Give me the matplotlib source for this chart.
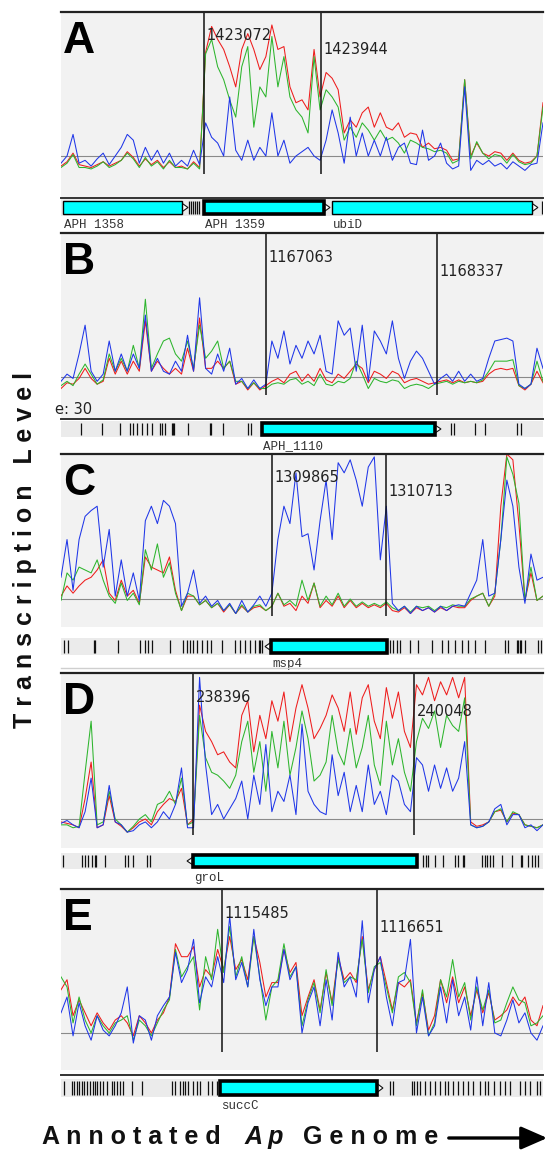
import numpy as np
import matplotlib.pyplot as plt
from matplotlib.patches import Rectangle, Polygon, FancyArrowPatch
from matplotlib.lines import Line2D

plt.rcParams['font.family'] = ['Liberation Sans', 'DejaVu Sans']

# ---------------- data ----------------
# transcription level, in % of panel height above the background line
a_red = [-7, -4, 2, -6, -7, -8, -6, -4, -7, -5, -3, 3, -1, -7, -2, -6, -3, -8, -4, -8,
         -7, -9, -4, -8, 72, 90, 81, 74, 62, 48, 74, 85, 74, 60, 69, 91, 74, 76, 48, 37,
         39, 32, 74, 41, 58, 54, 46, 16, 25, 20, 30, 34, 20, 30, 20, 18, 23, 13, 16, 15,
         6, 9, 5, 6, 4, -3, -2, 53, 0, 9, 2, 0, 3, 2, -3, 2, -3, -5, -4, 0, 37]
a_green = [-8, -5, 1, -8, -8, -9, -7, -4, -8, -6, -3, 2, -2, -8, -1, -7, -4, -9, -3, -8,
           -8, -9, -5, -9, 71, 81, 62, 53, 39, 27, 62, 76, 20, 48, 41, 83, 48, 69, 41, 32,
           27, 16, 69, 32, 46, 41, 34, 11, 20, 13, 23, 18, 11, 18, 11, 13, 9, 2, 11, 9,
           6, 5, 3, 4, 2, -5, -3, 53, -2, 10, 2, -2, 1, 0, -5, 1, -4, -6, -5, 0, 34]
a_blue = [-5, 0, 15, -5, -3, -7, -2, 2, -6, 0, 6, 15, 11, -5, 6, -3, 4, -5, 2, -7,
          -3, -7, 4, -6, 23, 13, 9, 0, 41, 4, -3, 11, -3, 6, 0, 30, 0, 11, -5, 0,
          3, 6, 0, -3, 11, 32, 16, -5, 27, 0, 16, 0, 11, 0, 13, -3, 6, 9, -5, -6,
          18, -3, 0, 9, -5, -9, -7, 48, -10, -3, -6, -3, -7, -5, -9, -4, -7, -10, -6, -5, 23]

b_red = [-8, -4, -5, -1, 6, -1, -5, -3, 13, 2, 11, 2, 11, 4, 39, 4, 11, 6, 2, 6,
         2, 20, 4, 41, 6, 6, 11, 6, 11, -5, -3, -9, -4, -9, -6, -3, -1, -4, 2, 4,
         -3, 2, -3, 6, -2, -4, 2, -1, 4, 9, 6, -4, 4, 2, -1, 4, 2, -4, -2, -1,
         -3, -5, -4, -3, -2, -4, -2, -4, -3, -4, -3, 2, 5, 6, 5, 6, -6, -9, -5, 4, -4]
b_green = [-6, -3, -6, 2, 9, 2, -5, -2, 16, 4, 13, 4, 22, 6, 54, 6, 16, 25, 27, 16,
           11, 25, 6, 36, 13, 18, 25, 6, 11, -3, -3, -8, -4, -8, -8, -5, -4, -5, -2, -1,
           -5, -3, -6, 2, -5, -6, -3, -4, -1, 11, 2, -8, -1, -3, -4, -2, -3, -8, -6, -5,
           -6, -8, -5, -4, -3, -5, -3, -4, -3, -4, -2, 4, 11, 11, 11, 12, -6, -8, -5, 11, -3]
b_blue = [-3, 2, -1, 16, 36, 4, -3, 2, 25, 4, 16, 4, 16, 6, 43, 4, 13, 4, 2, 11,
          4, 29, 4, 55, 6, 2, 16, 4, 20, -5, -1, -8, -2, -8, -5, 25, 13, 32, 9, 22,
          13, 25, 16, 29, 4, 2, 39, 29, 34, 4, 36, -3, 32, 25, 16, 39, 13, -1, 11, 18,
          13, 4, -5, -1, 2, -3, 4, -3, 2, -3, -1, 13, 25, 26, 27, 25, -5, -8, -5, 20, 6]

c_red = [2, 9, 4, 9, 13, 15, 20, 27, 4, -1, 13, 2, 6, -3, 29, 22, 20, 18, 29, 6,
         -8, 2, 2, -4, -1, -6, -3, -9, -4, -10, -5, -9, -6, -5, -8, -5, 4, -5, -3, -8,
         2, -3, 11, -6, -1, -5, 2, -6, -1, -6, -3, -6, -4, -6, -3, -8, -9, -6, -10, -6,
         -8, -6, -9, -6, -8, -5, -6, -6, -1, 2, 4, -5, 2, 64, 100, 96, 52, -1, 18, -1, 2]
c_green = [-1, 18, 13, 22, 20, 18, 27, 13, 2, -3, 11, -1, 4, -4, 34, 20, 38, 15, 25, 4,
           -8, 4, 2, -4, -1, -6, -3, -8, -4, -10, -4, -9, -5, -4, -8, -5, 4, -4, -1, -5,
           13, -1, 11, -5, 2, -4, 4, -5, 0, -5, -2, -5, -3, -5, -2, -6, -8, -5, -9, -5,
           -6, -5, -8, -5, -6, -4, -5, -5, 0, 2, 4, -5, 4, 41, 98, 86, 66, -1, 22, -1, 2]
c_blue = [15, 41, 6, 41, 57, 61, 64, 22, 48, 2, 27, 2, 18, -1, 54, 64, 52, 68, 64, 52,
          -5, 4, 20, -3, 2, -5, -1, -8, -3, -10, -1, -9, -4, 2, -5, 4, 41, 64, 52, 87,
          43, 45, 20, 54, 82, 41, 94, 87, 96, 82, 64, 91, 98, 27, 64, -3, -8, -5, -10, -5,
          -8, -6, -9, -5, -8, -5, -4, -5, 4, 13, 41, 2, 4, 41, 82, 64, 22, -3, 31, 13, 15]

d_red = [-2, -3, -4, -6, 14, 39, -6, -4, 16, -2, -5, -9, -6, -2, 0, -4, 5, 10, 14, 12,
         21, -4, 0, 78, 60, 53, 44, 46, 39, 35, 71, 81, 46, 71, 55, 81, 67, 87, 53, 76,
         92, 76, 55, 62, 71, 85, 76, 60, 87, 58, 83, 92, 67, 55, 90, 69, 87, 60, 49, 92,
         85, 97, 81, 94, 85, 97, 83, 97, -2, -5, -4, -2, 5, 6, -2, 4, 3, -4, -5, -6, -4]
d_green = [-4, -4, -6, -5, 32, 67, -4, -2, 19, 0, -4, -9, -5, 0, 3, -2, 10, 12, 19, 10,
           28, -4, -2, 71, 42, 32, 30, 26, 21, 30, 53, 67, 32, 53, 19, 60, 35, 67, 30, 49,
           74, 55, 26, 30, 39, 71, 46, 37, 62, 35, 49, 71, 37, 23, 67, 37, 55, 32, 19, 53,
           69, 62, 74, 49, 71, 64, 60, 83, -4, -6, -5, -2, 5, 7, -2, 5, 3, -4, -5, -6, -4]
d_blue = [-3, -1, -4, -6, 5, 28, -6, -4, 23, -2, -4, -9, -8, -4, -2, -6, -2, 5, 0, 10,
          35, -6, -6, 97, 37, 3, 10, 0, 7, 14, 26, 0, 30, 10, 51, 5, 19, 12, 30, 3,
          65, 19, 10, 5, 3, 44, 16, 32, 5, 23, 5, 37, 10, 19, 3, 30, 26, 10, 5, 42,
          37, 19, 37, 21, 35, 19, 28, 53, -4, -6, -5, -2, 7, 10, -4, 3, 3, -6, -4, -8, -4]

e_red = [30, 37, 12, 23, 14, 5, 14, 7, 2, 9, 12, 7, -2, 12, 7, 0, 9, 14, 25, 62,
         53, 53, 60, 32, 44, 39, 58, 44, 67, 44, 51, 37, 67, 49, 25, 35, 35, 58, 42, 49,
         12, 25, 37, 16, 42, 21, 53, 37, 42, 35, 67, 30, 44, 53, 35, 16, 35, 32, 37, 7,
         28, 2, 12, 37, 21, 39, 21, 32, 12, 30, 14, 28, 9, 12, 16, 25, 19, 25, 9, 5, 19]
e_green = [39, 32, 7, 25, 9, 0, 12, 5, 0, 7, 9, 12, -5, 9, 5, -2, 7, 16, 23, 58,
           39, 46, 53, 16, 53, 37, 72, 42, 74, 39, 53, 32, 67, 39, 9, 32, 37, 62, 39, 46,
           5, 23, 35, 14, 44, 19, 51, 35, 39, 37, 65, 28, 46, 49, 32, 14, 39, 42, 35, 5,
           30, -2, 7, 37, 25, 51, 25, 35, 9, 32, 16, 30, 7, 9, 21, 32, 23, 21, 5, 7, 12]
e_blue = [14, 25, -2, 21, 5, -5, 12, 2, -2, 5, 14, 32, -7, 12, 9, -5, 12, 19, 25, 56,
          35, 44, 65, 21, 39, 32, 53, 35, 81, 37, 49, 32, 72, 37, 19, 32, 32, 58, 37, 46,
          0, 21, 32, 5, 37, 9, 56, 32, 39, 25, 78, 21, 44, 53, 25, 5, 35, 37, 65, 0,
          25, -2, 5, 32, 7, 37, 12, 25, 2, 39, 5, 35, 0, -2, 9, 23, 7, 14, 0, -5, 5]

# genome coordinates of the marked gene boundaries
a_marks = [1423072, 1423944]
b_marks = [1167063, 1168337]
c_marks = [1309865, 1310713]
d_marks = [238396, 240048]
e_marks = [1115485, 1116651]

# annotated genes: start, end, name, strand, gene of interest
a_genes = [(1422021, 1422953, 'APH 1358', '+', False),
           (1423072, 1424011, 'APH 1359', '+', True),
           (1424026, 1425561, 'ubiD', '+', False)]
b_genes = [(1167033, 1168367, 'APH_1110', '+', True)]
c_genes = [(1309813, 1310720, 'msp4', '-', True)]
d_genes = [(238351, 240070, 'groL', '-', True)]
e_genes = [(1115470, 1116696, 'succC', '+', True)]

# other small features on the annotation track
a_ticks = [1422960, 1422975, 1422990, 1423005, 1423020, 1423035, 1425591]
b_ticks = [1165685, 1165841, 1165976, 1166050, 1166072, 1166102, 1166139, 1166177,
           1166214, 1166274, 1166288, 1166311, 1166363, 1166371, 1166378, 1166482,
           1166646, 1166654, 1166743, 1166929, 1166951, 1168441, 1168464, 1168620,
           1168695, 1168933, 1168963]
c_ticks = [1308317, 1308347, 1308540, 1308548, 1308719, 1308883, 1308920, 1308942,
           1308972, 1309106, 1309203, 1309232, 1309255, 1309277, 1309307, 1309344,
           1309381, 1309411, 1309493, 1309589, 1309627, 1309664, 1309701, 1309738,
           1309768, 1309775, 1309790, 1310742, 1310765, 1310795, 1310817, 1310891,
           1310951, 1311055, 1311129, 1311174, 1311226, 1311278, 1311323, 1311375,
           1311449, 1311598, 1311620, 1311687, 1311695, 1311710, 1311717, 1311747,
           1311843, 1311866]
d_ticks = [237424, 237566, 237588, 237611, 237641, 237663, 237671, 237738, 237887,
           237910, 237947, 238052, 238074, 240115, 240137, 240152, 240205, 240264,
           240354, 240377, 240414, 240421, 240556, 240578, 240593, 240616, 240638,
           240705, 240780, 240847, 240855, 240900, 240930, 240952, 240975]
e_ticks = [1114297, 1114357, 1114372, 1114394, 1114409, 1114432, 1114447, 1114470,
           1114492, 1114515, 1114530, 1114545, 1114567, 1114590, 1114620, 1114658,
           1114673, 1114695, 1114718, 1114740, 1114808, 1114883, 1115109, 1115132,
           1115169, 1115192, 1115207, 1115229, 1115267, 1115297, 1115320, 1115380,
           1115410, 1115448, 1116749, 1116772, 1116915, 1116930, 1116952, 1116975,
           1117012, 1117050, 1117088, 1117125, 1117163, 1117185, 1117223, 1117261,
           1117298, 1117336, 1117373, 1117426, 1117464, 1117486, 1117531, 1117577,
           1117614, 1117652, 1117727, 1117765, 1117802, 1117855, 1117878]

letters = ['A', 'B', 'C', 'D', 'E']
ylabel = 'Transcription Level'
xlabel = ['Annotated', 'Ap', 'Genome']
scale_text = 'e: 30'

# ---------------- layout (pixels) ----------------
W, H = 556, 1158
X0, X1 = 61, 543
# visible genome window of each panel
spans = [(1422006, 1425599), (1165536, 1169127), (1308295, 1311881),
         (237409, 241012), (1114274, 1117900)]
# top rule, background line, grey bottom, marker-line bottom, track top, track bottom, rule over track
rows = [(12, 156, 197, 174, 199, 216, 198),
        (233, 377, 418, 395, 421, 437, 419),
        (454, 599, 627, 616, 638, 655, None),
        (673, 819, 848, 835, 853, 869, None),
        (889, 1033, 1070, 1052, 1079, 1097, 1075)]

panels = [
    (a_red, a_green, a_blue, a_marks, a_genes, a_ticks),
    (b_red, b_green, b_blue, b_marks, b_genes, b_ticks),
    (c_red, c_green, c_blue, c_marks, c_genes, c_ticks),
    (d_red, d_green, d_blue, d_marks, d_genes, d_ticks),
    (e_red, e_green, e_blue, e_marks, e_genes, e_ticks),
]

RED, GREEN, BLUE = '#ee1c1c', '#2db52d', '#1f36e8'
TITLE = dict(fontsize=18, fontweight='bold', color='#111111')

fig = plt.figure(figsize=(W / 100, H / 100), dpi=100)


def fax(l, t, r, b):
    ax = fig.add_axes([l / W, 1 - b / H, (r - l) / W, (b - t) / H])
    ax.set_xticks([])
    ax.set_yticks([])
    for s in ax.spines.values():
        s.set_visible(False)
    return ax


def hline(py, color, lw):
    fig.add_artist(Line2D([X0 / W, X1 / W], [1 - py / H] * 2, color=color, lw=lw))


for i, (red, green, blue, marks, genes, ticks) in enumerate(panels):
    top, base, bot, vbot, st, sb, rule = rows[i]
    unit = (base - top) / 100.0

    ax = fax(X0, top, X1, bot)
    ax.set_facecolor('#f2f2f2')
    ax.set_xlim(*spans[i])
    ax.set_ylim(-(bot - base) / unit, 100)
    ax.axhline(0, color='#8a8a8a', lw=0.8)
    x = np.linspace(spans[i][0], spans[i][1], len(red))
    ax.plot(x, red, color=RED, lw=0.75)
    ax.plot(x, green, color=GREEN, lw=0.75)
    ax.plot(x, blue, color=BLUE, lw=0.75)
    ax.vlines(marks, -(vbot - base) / unit, 100, color='#111111', lw=1.1)
    ax.axhline(100, color='#222222', lw=1.6, clip_on=False)
    for j, m in enumerate(marks):
        ax.annotate(str(m), xy=(m, 100), xytext=(2, -(24 if j == 0 else 38) * 0.72),
                    textcoords='offset points', va='center', ha='left',
                    fontsize=10.5, family='DejaVu Sans', color='#222222',
                    annotation_clip=False)
    fig.text(63 / W, 1 - (top + 41) / H, letters[i], fontsize=32,
             fontweight='bold', ha='left', va='baseline')

    # annotation track
    tax = fax(X0, st, X1, sb)
    tax.set_facecolor('#ebebeb')
    tax.set_xlim(*spans[i])
    tax.set_ylim(0, 1)
    tax.vlines(ticks, 0.12, 0.88, color='#111111', lw=0.9)
    tri = 45
    for g0, g1, name, strand, main in genes:
        if strand == '+':
            b0, b1 = g0, g1 - tri
            pts = [(b1, 0.25), (g1, 0.5), (b1, 0.75)]
        else:
            b0, b1 = g0 + tri, g1
            pts = [(b0, 0.25), (g0, 0.5), (b0, 0.75)]
        tax.add_patch(Polygon(pts, closed=True, fc='white', ec='#111111', lw=0.8))
        tax.add_patch(Rectangle((b0, 0.12), b1 - b0, 0.76, fc='#00ffff',
                                ec='black', lw=2.6 if main else 1.0))
        tax.annotate(name, xy=(b0, 0), xytext=(1, -2), textcoords='offset points',
                     va='top', ha='left', fontsize=9, family='Liberation Mono',
                     color='#333333', annotation_clip=False)
    if rule is not None:
        hline(rule, '#333333', 1.4)

hline(668, '#cfcfcf', 1.0)
fig.text(55 / W, 1 - 410 / H, scale_text, fontsize=10.5, family='DejaVu Sans',
         color='#222222', ha='left', va='center')

# axis titles, letter-spaced as in the figure
fig.text(32 / W, 1 - 550 / H, ' '.join(ylabel), rotation=90, rotation_mode='anchor',
         ha='center', va='baseline', **TITLE)
fig.text(42 / W, 1 - 1144 / H, ' '.join(xlabel[0]), ha='left', va='baseline', **TITLE)
fig.text(245 / W, 1 - 1144 / H, ' '.join(xlabel[1]), style='italic',
         ha='left', va='baseline', **TITLE)
fig.text(303 / W, 1 - 1144 / H, ' '.join(xlabel[2]), ha='left', va='baseline', **TITLE)
fig.add_artist(FancyArrowPatch((446 / W, 1 - 1138 / H), (550 / W, 1 - 1138 / H),
                               transform=fig.transFigure,
                               arrowstyle='-|>,head_length=0.8,head_width=0.35',
                               mutation_scale=20, lw=2.4, color='black'))

fig.savefig('out.png', dpi=100)
